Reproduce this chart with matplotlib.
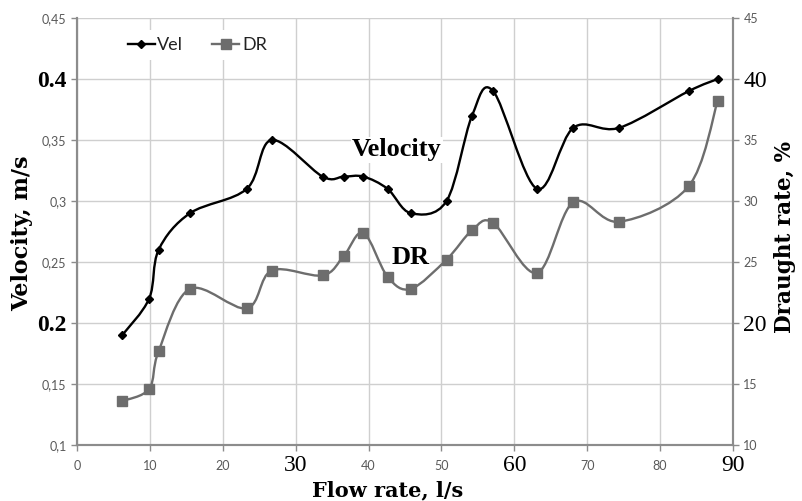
import matplotlib
matplotlib.use('Agg')
import matplotlib.pyplot as plt
from matplotlib.path import Path
from matplotlib.patches import PathPatch
from matplotlib.lines import Line2D

# data
flow = [6.2, 9.9, 11.2, 15.5, 23.3, 26.7, 33.7, 36.6, 39.3, 42.6,
        45.8, 50.7, 54.2, 57.1, 63.1, 68.1, 74.4, 83.9, 87.9]
vel = [0.19, 0.22, 0.26, 0.29, 0.31, 0.35, 0.32, 0.32, 0.32, 0.31,
       0.29, 0.30, 0.37, 0.39, 0.31, 0.36, 0.36, 0.39, 0.40]
dr = [13.6, 14.6, 17.7, 22.8, 21.2, 24.3, 23.9, 25.5, 27.4, 23.8,
      22.8, 25.2, 27.6, 28.2, 24.1, 29.9, 28.3, 31.2, 38.2]

x_ticks = [0, 10, 20, 30, 40, 50, 60, 70, 80, 90]
x_labels = ['0', '10', '20', '30', '40', '50', '60', '70', '80', '90']
vel_ticks = [0.1, 0.15, 0.2, 0.25, 0.3, 0.35, 0.4, 0.45]
vel_labels = ['0,1', '0,15', '0.2', '0,25', '0,3', '0,35', '0.4', '0,45']
dr_ticks = [10, 15, 20, 25, 30, 35, 40, 45]
dr_labels = ['10', '15', '20', '25', '30', '35', '40', '45']
big_x = ['30', '60', '90']
big_vel = ['0.2', '0.4']
big_dr = ['20', '40']

SERIF = ['Liberation Serif', 'DejaVu Serif']
WIDE_SERIF = ['DejaVu Serif']
SANS = ['Lato', 'DejaVu Sans']
VEL_C = 'black'
DR_C = '#6d6d6d'
SPINE_C = '#8c8c8c'


def smooth_path(xs, ys, t=1/6.):
    # excel-like smoothed line: cubic bezier through the points
    n = len(xs)
    verts = [(xs[0], ys[0])]
    codes = [Path.MOVETO]
    for i in range(n - 1):
        i0 = max(i - 1, 0)
        i3 = min(i + 2, n - 1)
        c1 = (xs[i] + (xs[i + 1] - xs[i0]) * t, ys[i] + (ys[i + 1] - ys[i0]) * t)
        c2 = (xs[i + 1] - (xs[i3] - xs[i]) * t, ys[i + 1] - (ys[i3] - ys[i]) * t)
        verts += [c1, c2, (xs[i + 1], ys[i + 1])]
        codes += [Path.CURVE4] * 3
    return Path(verts, codes)


fig = plt.figure(figsize=(8.03, 5.01), dpi=100)
ax = fig.add_axes([77/803, 1 - 445/501, 656/803, 427/501])
ax2 = ax.twinx()

ax.set_xlim(0, 90)
ax.set_ylim(0.1, 0.45)
ax2.set_ylim(10, 45)

ax.grid(True, color='#cfcfcf', lw=1.0)
ax.set_axisbelow(True)

for a in (ax, ax2):
    a.spines['top'].set_visible(False)
    for s in ('left', 'right', 'bottom'):
        a.spines[s].set_color(SPINE_C)
        a.spines[s].set_linewidth(1.5)
    a.tick_params(colors=SPINE_C, length=4, width=1.0)

# curves
ax.add_patch(PathPatch(smooth_path(flow, vel), fill=False, ec=VEL_C, lw=1.7, zorder=3))
ax.plot(flow, vel, ls='none', marker='D', ms=4, color=VEL_C, zorder=4)
ax2.add_patch(PathPatch(smooth_path(flow, dr), fill=False, ec=DR_C, lw=1.7, zorder=3))
ax2.plot(flow, dr, ls='none', marker='s', ms=7, color=DR_C, zorder=4)

# ticks
ax.set_xticks(x_ticks, x_labels)
ax.set_yticks(vel_ticks, vel_labels)
ax2.set_yticks(dr_ticks, dr_labels)
ax.tick_params(axis='x', pad=11)


def style_labels(labels, big, weight='normal', xaxis=False):
    for lbl in labels:
        if lbl.get_text() in big:
            lbl.set_fontfamily(SERIF)
            lbl.set_fontsize(17)
            lbl.set_fontweight(weight)
            lbl.set_color('black')
        else:
            lbl.set_fontfamily(SANS)
            lbl.set_fontsize(9)
            lbl.set_color('#595959')
        if xaxis:
            lbl.set_va('center')


style_labels(ax.get_xticklabels(), big_x, xaxis=True)
style_labels(ax.get_yticklabels(), big_vel, weight='bold')
style_labels(ax2.get_yticklabels(), big_dr)

# axis titles
fig.text(22/803, 1 - 233/501, 'Velocity, m/s', rotation=90, ha='center', va='center',
         family=WIDE_SERIF, fontsize=16, fontweight='bold')
fig.text(785/803, 1 - 237/501, 'Draught rate, %', rotation=90, ha='center', va='center',
         family=WIDE_SERIF, fontsize=15.5, fontweight='bold')
fig.text(388/803, 1 - 496/501, 'Flow rate, l/s', ha='center', va='baseline',
         family=WIDE_SERIF, fontsize=15, fontweight='bold')

# in-plot annotations
ax2.text(43.9, 34.2, 'Velocity', ha='center', va='center', family=SERIF, fontsize=19,
         fontweight='bold', zorder=5,
         bbox=dict(fc='white', ec='none', pad=1))
ax2.text(45.7, 25.4, 'DR', ha='center', va='center', family=SERIF, fontsize=19,
         fontweight='bold', zorder=5,
         bbox=dict(fc='white', ec='none', pad=1))

# legend
handles = [Line2D([], [], color=VEL_C, lw=1.7, marker='D', ms=4, label='Vel'),
           Line2D([], [], color=DR_C, lw=1.7, marker='s', ms=7, label='DR')]
leg = ax2.legend(handles=handles, loc='upper left', bbox_to_anchor=(0.066, 0.972),
                 ncol=2, frameon=True, facecolor='white', edgecolor='none', framealpha=1,
                 prop={'family': SANS, 'size': 13}, handlelength=1.5, handletextpad=0.15,
                 columnspacing=1.6, borderaxespad=0)
for t in leg.get_texts():
    t.set_color('#222222')

fig.savefig('out.png', dpi=100)
